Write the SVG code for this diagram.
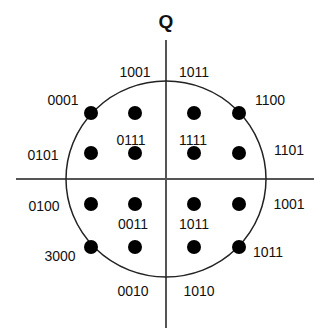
<svg xmlns="http://www.w3.org/2000/svg" width="326" height="328" viewBox="0 0 326 328">
<style>
.ax{stroke:#555;stroke-width:2;fill:none}
.c{stroke:#222;stroke-width:1.5;fill:none}
.d{fill:#000}
text{font-family:"Liberation Sans",Arial,sans-serif;font-size:14px;fill:#111;text-anchor:middle}
.q{font-size:19px;font-weight:bold}
</style>
<rect width="326" height="328" fill="#fff"/>
<g id="connectors">
<line class="ax" x1="166" y1="40" x2="166" y2="328"/>
<line class="ax" x1="16" y1="179" x2="314" y2="179"/>
<ellipse class="c" cx="166" cy="179" rx="100" ry="98"/>
</g>
<text class="q" x="166" y="28">Q</text>
<g id="p0001"><circle class="d" cx="91" cy="113" r="7"/><text x="63" y="105">0001</text></g>
<g id="p1001a"><circle class="d" cx="135" cy="113" r="7"/><text x="135" y="77">1001</text></g>
<g id="p1011a"><circle class="d" cx="194" cy="113" r="7"/><text x="194" y="77">1011</text></g>
<g id="p1100"><circle class="d" cx="239" cy="113" r="7"/><text x="270" y="105">1100</text></g>
<g id="p0101"><circle class="d" cx="91" cy="153" r="7"/><text x="43" y="160">0101</text></g>
<g id="p0111"><circle class="d" cx="135" cy="153" r="7"/><text x="131" y="145">0111</text></g>
<g id="p1111"><circle class="d" cx="194" cy="153" r="7"/><text x="193" y="145">1111</text></g>
<g id="p1101"><circle class="d" cx="239" cy="153" r="7"/><text x="289" y="155">1101</text></g>
<g id="p0100"><circle class="d" cx="91" cy="204" r="7"/><text x="44" y="211">0100</text></g>
<g id="p0011"><circle class="d" cx="135" cy="204" r="7"/><text x="133" y="229">0011</text></g>
<g id="p1011b"><circle class="d" cx="194" cy="204" r="7"/><text x="194" y="229">1011</text></g>
<g id="p1001b"><circle class="d" cx="239" cy="204" r="7"/><text x="289" y="209">1001</text></g>
<g id="p3000"><circle class="d" cx="91" cy="247" r="7"/><text x="60" y="261">3000</text></g>
<g id="p0010"><circle class="d" cx="135" cy="247" r="7"/><text x="133" y="296">0010</text></g>
<g id="p1010"><circle class="d" cx="194" cy="247" r="7"/><text x="199" y="296">1010</text></g>
<g id="p1011c"><circle class="d" cx="239" cy="247" r="7"/><text x="268" y="257">1011</text></g>
</svg>
